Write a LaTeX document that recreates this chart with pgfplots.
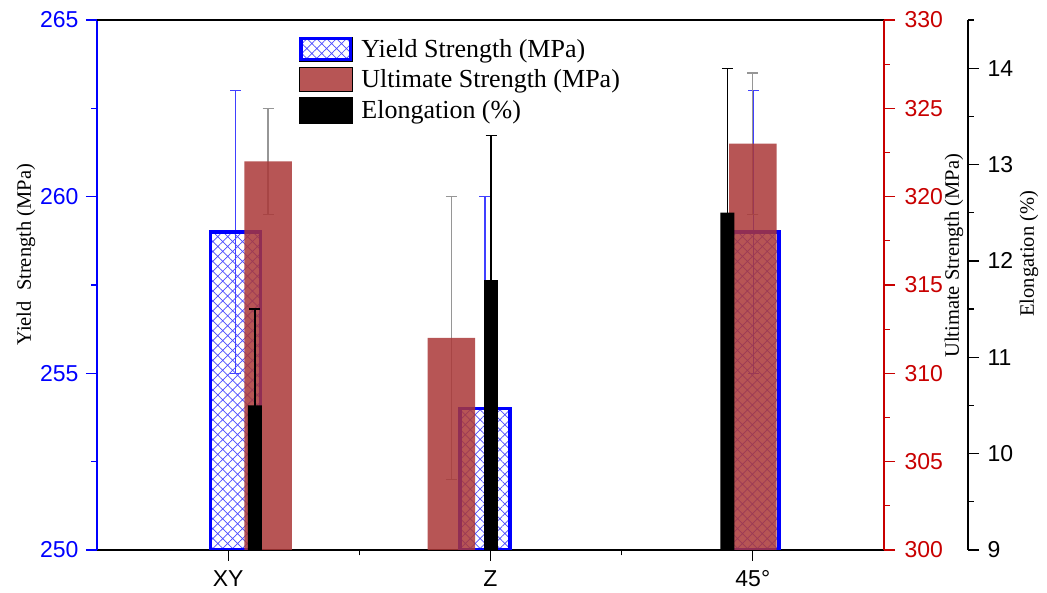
\documentclass[border=0pt]{standalone}
\usepackage{fontspec}
\setmainfont{Liberation Serif}
\setsansfont{Liberation Sans}
\usepackage{pgfplots}
\pgfplotsset{compat=1.18}
\usetikzlibrary{patterns,patterns.meta}

\definecolor{ybl}{RGB}{0,0,255}
\definecolor{ured}{RGB}{200,0,0}
\definecolor{ufill}{RGB}{170,55,55}
\definecolor{ugray}{RGB}{150,150,150}

\pgfplotsset{
  common/.style={
    scale only axis, at={(0,0)}, anchor=south west,
    height=530pt, xmin=0.5,
    tick align=outside, major tick length=11pt, minor tick length=5.5pt,
    /pgf/number format/assume math mode=true,
    tick label style={font=\sffamily\fontsize{23}{27}\selectfont},
  },
  ebars/.style={only marks, mark=-, mark size=0pt, forget plot,
    error bars/.cd, y dir=both, y explicit,
    error bar style={#1, line width=1.2pt},
    error mark options={rotate=90, mark size=5.5pt, #1, line width=1.2pt}},
}

\begin{document}
\begin{tikzpicture}
\useasboundingbox (-97pt,-43pt) rectangle (950pt,550pt);

% ---------- Yield strength axis ----------
\begin{axis}[common,
  width=787pt, xmax=3.5, ymin=250, ymax=265,
  axis x line*=bottom, axis y line*=left,
  x axis line style={black, line width=1.3pt},
  y axis line style={ybl, line width=1.3pt},
  xtick={1,2,3}, xticklabels={XY,Z,45°}, minor xtick={1.5,2.5},
  ytick={250,255,260,265}, minor ytick={252.5,257.5,262.5},
  xtick style={black, line width=1.3pt},
  ytick style={ybl, line width=1.3pt},
  yticklabel style={text=ybl, xshift=-4pt},
  xticklabel style={yshift=-6pt},
  ylabel={Yield\ \ Strength (MPa)},
  every axis y label/.style={at={(axis description cs:0,0.557)}, xshift=-71pt, rotate=90, anchor=center, font=\fontsize{20.5}{24}\selectfont},
]
\addplot[ebars=ybl!75]
  coordinates {(1.028,259) +- (0,4) (1.979,254) +- (0,6) (3.004,259) +- (0,4)};
\addplot[ybar, bar width=0.192, bar shift=0pt, draw=ybl, line width=3.5pt,
  pattern={Hatch[angle=45,distance=7pt,line width=0.7pt]}, pattern color=ybl!70]
  coordinates {(1.028,259) (1.979,254) (3.004,259)};
\end{axis}

% ---------- Ultimate strength axis ----------
\begin{axis}[common,
  width=787pt, xmax=3.5, ymin=300, ymax=330,
  axis x line*=top, axis y line*=right,
  x axis line style={black, line width=1.3pt},
  y axis line style={ured, line width=1.3pt},
  xtick=\empty,
  ytick={300,305,...,330}, minor ytick={302.5,307.5,...,327.5},
  ytick style={ured, line width=1.3pt},
  yticklabel style={text=ured, xshift=6pt},
  ylabel={Ultimate Strength (MPa)},
  every axis y label/.style={at={(axis description cs:1,0.555)}, xshift=70pt, rotate=90, anchor=center, font=\fontsize{20.5}{24}\selectfont},
]
\addplot[ebars=ugray]
  coordinates {(1.152,322) +- (0,3) (1.851,312) +- (0,8) (3.0,323) +- (0,4)};
\addplot[ybar, bar width=0.181, bar shift=0pt, draw=none, fill=ufill, fill opacity=0.85]
  coordinates {(1.152,322) (1.851,312) (3.0,323)};
\end{axis}

% ---------- Elongation axis ----------
\begin{axis}[common,
  width=871pt, xmax=3.8203, ymin=9, ymax=14.5,
  axis x line=none, axis y line*=right,
  y axis line style={black, line width=1.3pt},
  ytick={9,10,...,14}, minor ytick={9.5,10.5,...,14.5},
  ytick style={black, line width=1.3pt},
  yticklabel style={xshift=5pt},
  ylabel={Elongation (\%)},
  every axis y label/.style={at={(axis description cs:1,0.559)}, xshift=61pt, rotate=90, anchor=center, font=\fontsize{20.5}{24}\selectfont},
  legend style={at={(axis description cs:0.2319,0.968)}, anchor=north west,
    draw=none, fill=none, inner sep=0pt, outer sep=0pt,
    font=\fontsize{26}{30}\selectfont,
    nodes={inner sep=1pt, anchor=west}, row sep=5.5pt,
    /tikz/every odd column/.append style={column sep=8pt}},
  legend cell align=left,
]
\addplot[ebars=black]
  coordinates {(1.102,10.5) +- (0,1) (2.002,11.8) +- (0,1.5) (2.903,12.5) +- (0,1.5)};
\addplot[ybar, bar width=0.053, bar shift=0pt, draw=none, fill=black, forget plot]
  coordinates {(1.102,10.5) (2.002,11.8) (2.903,12.5)};

\addlegendimage{legend image code/.code={
  \path (0pt,-12pt) rectangle (53pt,12pt);
  \draw[draw=ybl, line width=3.5pt, pattern={Hatch[angle=45,distance=7pt,line width=0.7pt]}, pattern color=ybl!70]
    (1.75pt,-10.5pt) rectangle (51.25pt,10.5pt);}}
\addlegendentry{Yield Strength (MPa)}
\addlegendimage{legend image code/.code={
  \path[fill=ufill, fill opacity=0.85] (0pt,-12pt) rectangle (53pt,12pt);}}
\addlegendentry{Ultimate Strength (MPa)}
\addlegendimage{legend image code/.code={
  \path[fill=black] (0pt,-13pt) rectangle (53pt,13pt);}}
\addlegendentry{Elongation (\%)}
\end{axis}
\end{tikzpicture}
\end{document}
